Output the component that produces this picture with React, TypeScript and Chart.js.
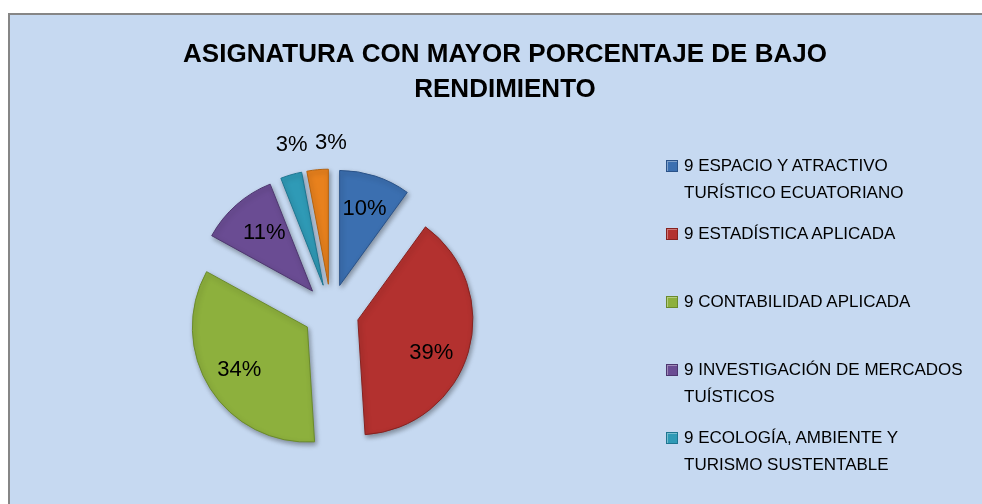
import React, { useEffect, useRef } from 'react';
import { Chart, registerables, layouts } from 'chart.js';

Chart.register(...registerables);

// ---------- data ----------
const TITLE_LINES = ['ASIGNATURA CON MAYOR PORCENTAJE DE BAJO', 'RENDIMIENTO'];
const CATEGORIES: string[][] = [
  ['9 ESPACIO Y ATRACTIVO', 'TURÍSTICO ECUATORIANO'],
  ['9 ESTADÍSTICA APLICADA'],
  ['9 CONTABILIDAD APLICADA'],
  ['9 INVESTIGACIÓN DE MERCADOS', 'TUÍSTICOS'],
  ['9 ECOLOGÍA, AMBIENTE Y', 'TURISMO SUSTENTABLE'],
  ['9 (entrada de leyenda no visible)'],
];
const PERCENTAGES = [10, 39, 34, 11, 3, 3];
const SLICE_COLORS = ['#3b6fb0', '#b3312f', '#8db03d', '#6a4c93', '#2f9ab6', '#e8811d'];
const SLICE_EDGES = ['#2a5288', '#862220', '#6a8a2b', '#4d366f', '#1e7590', '#b5620e'];
const VISIBLE_LEGEND_ITEMS = 5;

// ---------- layout / style ----------
const FONT = "'Liberation Sans', Arial, sans-serif";
const CANVAS_W = 1010;
const CANVAS_H = 560;
const RIGHT_SPACE = 348;
const PIE_RADIUS = 115;
const EXPLODE = 28;
const INSIDE_LABEL_RATIO = 0.7;
const OUTSIDE_LABEL_DIST = 170;
const SMALL_SLICE = 5;
const LABEL_NUDGE: [number, number][] = [[0, 0], [-4, 11], [0, 0], [5, 2], [8, -4], [16, 0]];

function shade(hex: string, f: number) {
  const n = parseInt(hex.slice(1), 16);
  const ch = [(n >> 16) & 255, (n >> 8) & 255, n & 255].map((c) =>
    Math.round(f >= 0 ? c + (255 - c) * f : c * (1 + f))
  );
  return `rgb(${ch[0]},${ch[1]},${ch[2]})`;
}

const spacerPlugin = {
  id: 'rightSpacer',
  beforeInit(chart: any) {
    const box: any = {
      position: 'right',
      weight: 100,
      fullSize: false,
      options: { stackWeight: 1 },
      left: 0, top: 0, right: 0, bottom: 0, width: 0, height: 0,
      isHorizontal: () => false,
      update(_w: number, h: number) {
        box.width = RIGHT_SPACE;
        box.height = h;
      },
      draw() {},
    };
    layouts.addBox(chart, box);
  },
};

const explodePlugin = {
  id: 'explodedPie',
  beforeDatasetDraw(chart: any, args: any) {
    const ctx = chart.ctx;
    args.meta.data.forEach((arc: any) => {
      const mid = (arc.startAngle + arc.endAngle) / 2;
      ctx.save();
      ctx.shadowColor = 'rgba(0,0,0,0.35)';
      ctx.shadowBlur = 5;
      ctx.shadowOffsetX = 1.5;
      ctx.shadowOffsetY = 2.5;
      ctx.translate(Math.cos(mid) * EXPLODE, Math.sin(mid) * EXPLODE);
      arc.draw(ctx);
      ctx.restore();
    });
    return false;
  },
  afterDatasetsDraw(chart: any) {
    const ctx = chart.ctx;
    const meta = chart.getDatasetMeta(0);
    const values = chart.data.datasets[0].data as number[];
    ctx.save();
    ctx.font = `22px ${FONT}`;
    ctx.fillStyle = '#000';
    ctx.textAlign = 'center';
    ctx.textBaseline = 'middle';
    meta.data.forEach((arc: any, i: number) => {
      const mid = (arc.startAngle + arc.endAngle) / 2;
      const dist = values[i] < SMALL_SLICE
        ? OUTSIDE_LABEL_DIST
        : EXPLODE + arc.outerRadius * INSIDE_LABEL_RATIO;
      const x = arc.x + Math.cos(mid) * dist + LABEL_NUDGE[i][0];
      const y = arc.y + Math.sin(mid) * dist + LABEL_NUDGE[i][1];
      ctx.fillText(`${values[i]}%`, x, y);
    });
    ctx.restore();
  },
};

export default function App() {
  const canvasRef = useRef<HTMLCanvasElement | null>(null);

  useEffect(() => {
    document.documentElement.style.overflow = 'hidden';
    document.body.style.overflow = 'hidden';
    if (!canvasRef.current) return;
    const chart = new Chart(canvasRef.current, {
      type: 'pie',
      data: {
        labels: CATEGORIES,
        datasets: [
          {
            data: PERCENTAGES,
            backgroundColor: (c: any) => {
              const base = SLICE_COLORS[c.dataIndex];
              const el = c.element;
              if (!el || !el.outerRadius) return base;
              const g = c.chart.ctx.createRadialGradient(el.x, el.y, 0, el.x, el.y, el.outerRadius);
              g.addColorStop(0, shade(base, 0.04));
              g.addColorStop(0.88, base);
              g.addColorStop(0.95, shade(base, 0.06));
              g.addColorStop(1, shade(base, -0.12));
              return g;
            },
            borderColor: SLICE_EDGES,
            borderWidth: 1,
            radius: PIE_RADIUS,
          } as any,
        ],
      },
      options: {
        animation: false,
        responsive: false,
        devicePixelRatio: 1,
        layout: { padding: { left: 0, top: 0, right: 0, bottom: 43 } },
        plugins: {
          legend: { display: false },
          tooltip: { enabled: false },
          title: {
            display: true,
            text: TITLE_LINES,
            color: '#000',
            font: { family: FONT, size: 26, weight: 'bold', lineHeight: 1.33 },
            padding: { top: 38, bottom: 0 },
          },
        },
      },
      plugins: [spacerPlugin, explodePlugin],
    });
    return () => chart.destroy();
  }, []);

  return (
    <div style={{ position: 'fixed', inset: 0, overflow: 'hidden', background: '#c6d9f1' }}>
      <div style={{ position: 'absolute', left: 0, top: 0, right: 0, height: 13, background: '#fff' }} />
      <div style={{ position: 'absolute', left: 0, top: 0, bottom: 0, width: 8, background: '#fff' }} />
      <div style={{ position: 'absolute', left: 8, top: 13, right: 0, height: 2, background: '#868686' }} />
      <div style={{ position: 'absolute', left: 8, top: 13, bottom: 0, width: 2, background: '#868686' }} />
      <canvas
        ref={canvasRef}
        width={CANVAS_W}
        height={CANVAS_H}
        style={{ position: 'absolute', left: 0, top: 0, width: CANVAS_W, height: CANVAS_H }}
      />
      {CATEGORIES.slice(0, VISIBLE_LEGEND_ITEMS).map((lines, i) => (
        <React.Fragment key={i}>
          <div
            style={{
              position: 'absolute', left: 666, top: 160 + i * 68, width: 12, height: 12,
              boxSizing: 'border-box', background: SLICE_COLORS[i], border: `1px solid ${SLICE_EDGES[i]}`,
              boxShadow: 'inset 1px 1px 0 rgba(255,255,255,0.35)',
            }}
          />
          <div
            style={{
              position: 'absolute', left: 684, top: 153 + i * 68, font: `17px ${FONT}`,
              lineHeight: '26.5px', color: '#000', whiteSpace: 'nowrap',
            }}
          >
            {lines.map((l, j) => (
              <div key={j}>{l}</div>
            ))}
          </div>
        </React.Fragment>
      ))}
    </div>
  );
}
